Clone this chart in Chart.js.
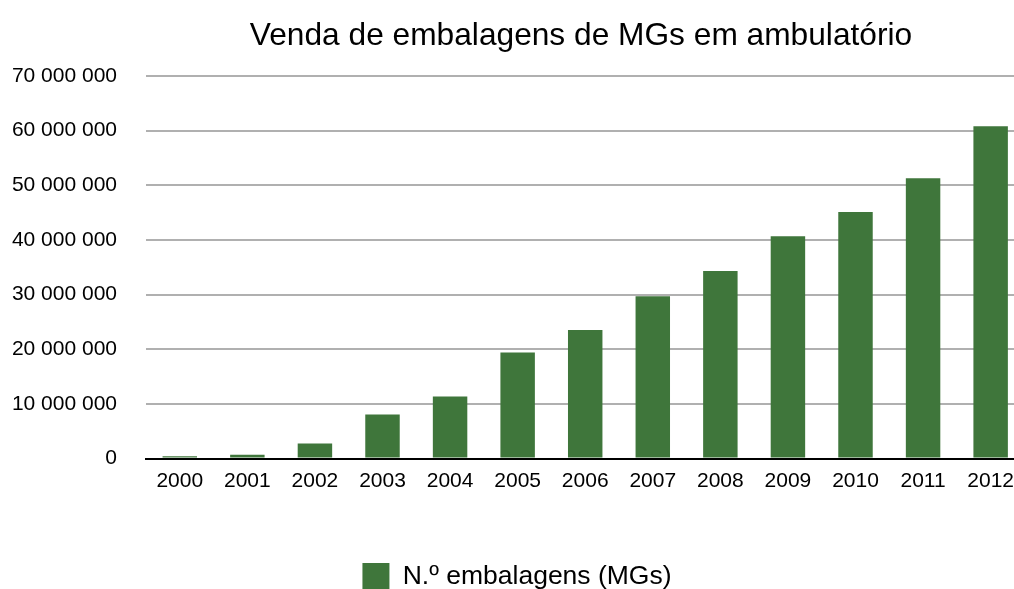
<!DOCTYPE html>
<html><head><meta charset="utf-8">
<script src="https://cdn.jsdelivr.net/npm/chart.js@4.4.1/dist/chart.umd.min.js"></script>
<style>
html,body{margin:0;padding:0;overflow:hidden;background:#fff;width:1014px;height:589px}
canvas{position:absolute;left:0;top:0}
</style>
</head><body>
<canvas id="c" width="1092" height="600"></canvas>
<script>
const categories = ['2000','2001','2002','2003','2004','2005','2006','2007','2008','2009','2010','2011','2012','2013'];
const values = [400000, 700000, 2750000, 8060000, 11360000, 19400000, 23500000, 29700000, 34300000, 40700000, 45100000, 51300000, 60800000, null];
const yTickValues = [0, 10000000, 20000000, 30000000, 40000000, 50000000, 60000000, 70000000];
const seriesLabel = 'N.º embalagens (MGs)';
const titleText = 'Venda de embalagens de MGs em ambulatório';

const FONT = "'Liberation Sans', Arial, Helvetica, sans-serif";
const fmt = v => String(v).replace(/\B(?=(\d{3})+(?!\d))/g, ' ');

const shiftPlugin = {
  id: 'shiftBoxes',
  afterLayout(chart) {
    const t = chart.titleBlock, l = chart.legend;
    if (t) { t.left += 29; t.right += 29; }
    if (l) { l.left -= 35; l.right -= 35; }
  }
};

new Chart(document.getElementById('c'), {
  type: 'bar',
  data: {
    labels: categories,
    datasets: [{
      label: seriesLabel,
      data: values,
      backgroundColor: '#3f763b',
      borderWidth: 0,
      categoryPercentage: 1,
      barPercentage: 0.51
    }]
  },
  plugins: [shiftPlugin],
  options: {
    responsive: false,
    animation: false,
    devicePixelRatio: 1,
    layout: { padding: { left: 12, right: 0, top: 0, bottom: 0 } },
    plugins: {
      tooltip: { enabled: false },
      title: {
        display: true,
        text: titleText,
        color: '#000',
        font: { family: FONT, size: 31.7, weight: 'normal', lineHeight: 1.2 },
        padding: { top: 17, bottom: 21 }
      },
      legend: {
        display: true,
        position: 'bottom',
        labels: {
          color: '#000',
          font: { family: FONT, size: 26.5 },
          boxWidth: 27,
          boxHeight: 27,
          padding: 10
        }
      }
    },
    scales: {
      x: {
        afterFit: s => { s.height = 94.5; },
        grid: { display: false, drawTicks: false },
        border: { display: true, color: '#000', width: 2 },
        ticks: { color: '#000', font: { family: FONT, size: 21 }, padding: 10, maxRotation: 0, autoSkip: false }
      },
      y: {
        min: 0,
        max: 70000000,
        afterFit: s => { s.width = 134; },
        afterBuildTicks: s => { s.ticks = yTickValues.map(v => ({ value: v })); },
        grid: {
          drawTicks: false,
          lineWidth: 2,
          color: ctx => (ctx.tick && ctx.tick.value === 0) ? '#000' : '#b0b0b0'
        },
        border: { display: false },
        ticks: { color: '#000', font: { family: FONT, size: 21 }, padding: 29, callback: v => fmt(v) }
      }
    }
  }
});
</script>
</body></html>
